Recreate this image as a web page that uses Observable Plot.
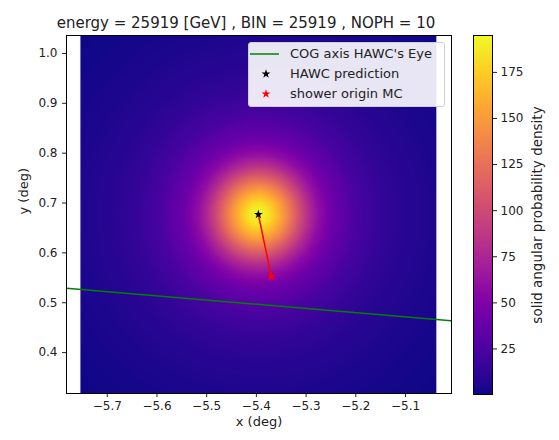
<!DOCTYPE html>
<html>
<head>
<meta charset="utf-8">
<script src="https://cdn.jsdelivr.net/npm/d3@7"></script>
<script src="https://cdn.jsdelivr.net/npm/@observablehq/plot@0.6"></script>
<style>
  body { margin: 0; background: #fff; }
  #fig { position: relative; width: 559px; height: 440px; font-family: "DejaVu Sans", sans-serif; overflow: hidden; }
  #fig svg { position: absolute; left: 0; top: 0; }
  .legend { position: absolute; left: 248px; top: 42px; width: 197px; height: 65px; box-sizing: border-box;
            border: 1px solid #cfcfcf; border-radius: 3px; background: rgba(255,255,255,0.9); color: #222; font-size: 13px; }
  .legend .row { position: absolute; left: 0; height: 16px; width: 100%; }
  .legend .row svg { position: absolute; left: 3px; top: 0; }
  .legend .row span { position: absolute; left: 41px; top: 0; line-height: 16px; white-space: nowrap; }
</style>
</head>
<body>
<div id="fig"></div>
<script>
// ---- data ----
const titleText = "energy = 25919 [GeV] , BIN = 25919 , NOPH = 10";
const xLimits = [-5.782, -5.0075];
const yLimits = [0.318, 1.036];
const xTicks = [-5.7, -5.6, -5.5, -5.4, -5.3, -5.2, -5.1];
const yTicks = [0.4, 0.5, 0.6, 0.7, 0.8, 0.9, 1.0];
const colorTicks = [25, 50, 75, 100, 125, 150, 175];
// extent of the density image
const imageX = [-5.754, -5.038];
const imageY = [0.318, 1.036];
// radial profile of the density around the HAWC prediction
const profileRadius  = [0, 0.02, 0.04, 0.06, 0.08, 0.10, 0.12, 0.15, 0.20, 0.25, 0.30, 0.40, 0.55];
const profileDensity = [195, 185, 162, 135, 106, 80, 60, 40, 23, 14, 8.5, 3.5, 0.3];
// HAWC prediction and MC shower origin
const predictionX = [-5.396];
const predictionY = [0.677];
const originX = [-5.37];
const originY = [0.553];
// COG axis (HAWC's Eye)
const cogX = [-5.782, -5.0075];
const cogY = [0.529, 0.464];
const legendLabels = ["COG axis HAWC's Eye", "HAWC prediction", "shower origin MC"];
const colorLabel = "solid angular probability density";

// ---- build ----
const colorDomain = d3.extent(profileDensity);
const color = {type: "linear", scheme: "plasma", domain: colorDomain};
const radial = d3.scaleLinear(profileRadius, profileDensity).clamp(true);
const fmt = d3.format(".1f");
const cogData = cogX.map((x, i) => ({x, y: cogY[i]}));
const predData = predictionX.map((x, i) => ({x, y: predictionY[i]}));
const origData = originX.map((x, i) => ({x, y: originY[i]}));
const linkData = [predData[0], origData[0]];

const main = Plot.plot({
  width: 559, height: 440,
  marginLeft: 66, marginRight: 108, marginTop: 35, marginBottom: 47,
  style: {background: "transparent", fontFamily: "DejaVu Sans, sans-serif", fontSize: "12px", color: "#222"},
  x: {domain: xLimits, ticks: xTicks, tickFormat: fmt, tickSize: 4, tickPadding: 4, label: null},
  y: {domain: yLimits, ticks: yTicks, tickFormat: fmt, tickSize: 4, tickPadding: 5, label: null},
  color,
  marks: [
    Plot.raster({
      fill: (x, y) => radial(Math.hypot(x - predictionX[0], y - predictionY[0])),
      x1: imageX[0], x2: imageX[1], y1: imageY[0], y2: imageY[1],
      width: 200, height: 200
    }),
    Plot.line(cogData, {x: "x", y: "y", stroke: "#008000", strokeWidth: 1.5, clip: true}),
    Plot.line(linkData, {x: "x", y: "y", stroke: "red", strokeWidth: 1.5}),
    Plot.dot(predData, {x: "x", y: "y", symbol: "star", fill: "black", r: 2.8}),
    Plot.dot(origData, {x: "x", y: "y", symbol: "star", fill: "red", r: 3}),
    Plot.frame({stroke: "black", strokeWidth: 1}),
    Plot.text([titleText], {text: d => d, frameAnchor: "top", dx: -13, dy: -8, lineAnchor: "bottom", fontSize: 15, fill: "#222"}),
    Plot.text(["x (deg)"], {text: d => d, frameAnchor: "bottom", dy: 32, fontSize: 13, fill: "#222"}),
    Plot.text(["y (deg)"], {text: d => d, frameAnchor: "left", dx: -43, rotate: -90, fontSize: 13, fill: "#222"})
  ]
});

const bar = Plot.plot({
  width: 559, height: 440,
  marginLeft: 473, marginRight: 67, marginTop: 35, marginBottom: 46,
  style: {background: "transparent", fontFamily: "DejaVu Sans, sans-serif", fontSize: "12px", color: "#222"},
  x: {domain: [0, 1], axis: null},
  y: {domain: colorDomain, ticks: colorTicks, tickSize: 4, tickPadding: 4, axis: "right", label: null},
  color,
  marks: [
    Plot.raster({fill: (x, y) => y, x1: 0, x2: 1, y1: colorDomain[0], y2: colorDomain[1], width: 2, height: 256}),
    Plot.frame({stroke: "black", strokeWidth: 1}),
    Plot.text([colorLabel], {text: d => d, frameAnchor: "right", textAnchor: "middle", dx: 45, rotate: -90, fontSize: 13.5, fill: "#222"})
  ]
});

const fig = document.getElementById("fig");
fig.appendChild(main);
fig.appendChild(bar);

// legend
const legend = document.createElement("div");
legend.className = "legend";
const starPath = d3.symbol(d3.symbolStar, Math.PI * 2.8 * 2.8)();
const symbols = [
  `<line x1="1" x2="30" y1="8" y2="8" stroke="#008000" stroke-width="1.5"/>`,
  `<path d="${starPath}" transform="translate(17,8)" fill="black"/>`,
  `<path d="${starPath}" transform="translate(17,8)" fill="red"/>`
];
const rowTops = [3, 23, 43];
legendLabels.forEach((lab, i) => {
  const row = document.createElement("div");
  row.className = "row";
  row.style.top = rowTops[i] + "px";
  row.innerHTML = `<svg width="34" height="16">${symbols[i]}</svg><span>${lab}</span>`;
  legend.appendChild(row);
});
fig.appendChild(legend);
</script>
</body>
</html>
